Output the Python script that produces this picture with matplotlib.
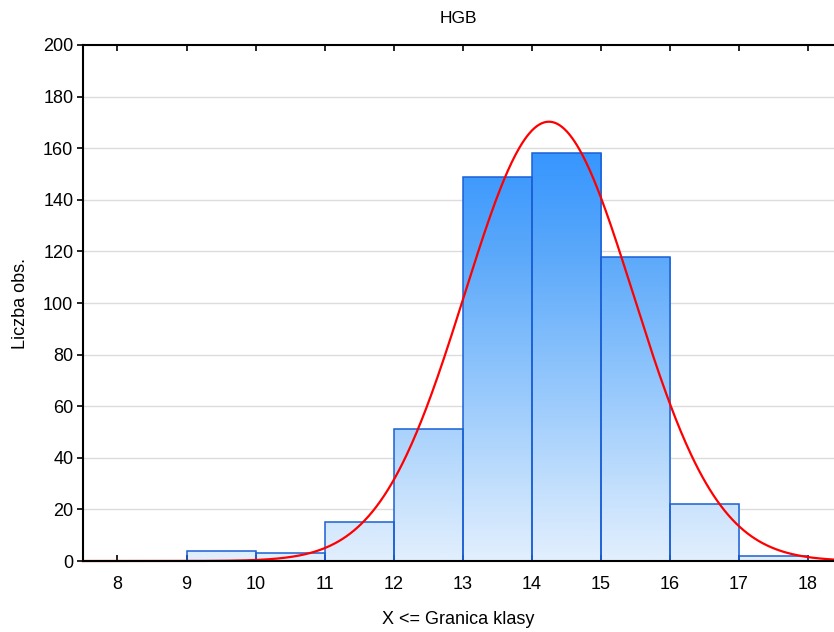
import numpy as np
import matplotlib
matplotlib.use("Agg")
import matplotlib.pyplot as plt
from matplotlib.colors import LinearSegmentedColormap, Normalize

plt.rcParams['font.family'] = ['Liberation Sans', 'DejaVu Sans']

# Class boundaries and observed counts for HGB
bin_edges = [8, 9, 10, 11, 12, 13, 14, 15, 16, 17, 18]
counts = [0, 4, 3, 15, 51, 149, 158, 118, 22, 2]

# Fitted normal distribution
fit_mean = 14.25
fit_sd = 1.223

x_ticks = [8, 9, 10, 11, 12, 13, 14, 15, 16, 17, 18]
y_ticks = [0, 20, 40, 60, 80, 100, 120, 140, 160, 180, 200]

fig = plt.figure(figsize=(8.34, 6.32), dpi=100)
ax = fig.add_axes([0.0995, 0.1123, 0.9005, 0.8165])

xmin, xmax = 7.5, 18.38
ymin, ymax = 0, 200

# light horizontal grid behind bars
for yv in y_ticks[1:-1]:
    ax.axhline(yv, color='#dcdcdc', lw=1.0, zorder=0)

# vertical fill gradient, keyed to the count level
cmap = LinearSegmentedColormap.from_list(
    'bar_grad',
    [(0.0, '#e2effd'), (0.17, '#c4e0fd'), (0.46, '#8ec4fc'),
     (0.75, '#5aa8fa'), (1.0, '#3595ff')])
norm = Normalize(0, 160)

for left, right, h in zip(bin_edges[:-1], bin_edges[1:], counts):
    if h <= 0:
        continue
    grad = np.linspace(0, h, 256).reshape(-1, 1)
    im = ax.imshow(grad, extent=(left, right, 0, h), origin='lower', aspect='auto',
                   cmap=cmap, norm=norm, zorder=1, interpolation='bilinear')
    rect = plt.Rectangle((left, 0), right - left, h, facecolor='none',
                         edgecolor='#1a5fd6', lw=1.1, zorder=2)
    ax.add_patch(rect)
    im.set_clip_path(rect)

ax.set_xlim(xmin, xmax)
ax.set_ylim(ymin, ymax)

# expected frequencies from the normal fit
n_total = sum(counts)
bin_width = bin_edges[1] - bin_edges[0]
xs = np.linspace(xmin, xmax, 600)
pdf = np.exp(-0.5 * ((xs - fit_mean) / fit_sd) ** 2) / (fit_sd * np.sqrt(2 * np.pi))
ax.plot(xs, n_total * bin_width * pdf, color='#ff0000', lw=1.6, zorder=3, clip_on=False)

ax.set_xticks(x_ticks)
ax.set_yticks(y_ticks)
ax.tick_params(axis='x', direction='in', top=True, bottom=True, length=4, width=1.2,
               labelsize=13, pad=11)
ax.tick_params(axis='y', direction='out', left=True, length=4, width=1.2,
               labelsize=13, pad=3)

for side in ['left', 'bottom', 'top']:
    ax.spines[side].set_linewidth(1.5)
    ax.spines[side].set_color('black')
    ax.spines[side].set_zorder(4)
ax.spines['right'].set_visible(False)

ax.set_title('HGB', fontsize=12.5, pad=16)
ax.set_xlabel('X <= Granica klasy', fontsize=13, labelpad=13)
ax.set_ylabel('Liczba obs.', fontsize=13, labelpad=10)

fig.savefig('out.png', dpi=100)
